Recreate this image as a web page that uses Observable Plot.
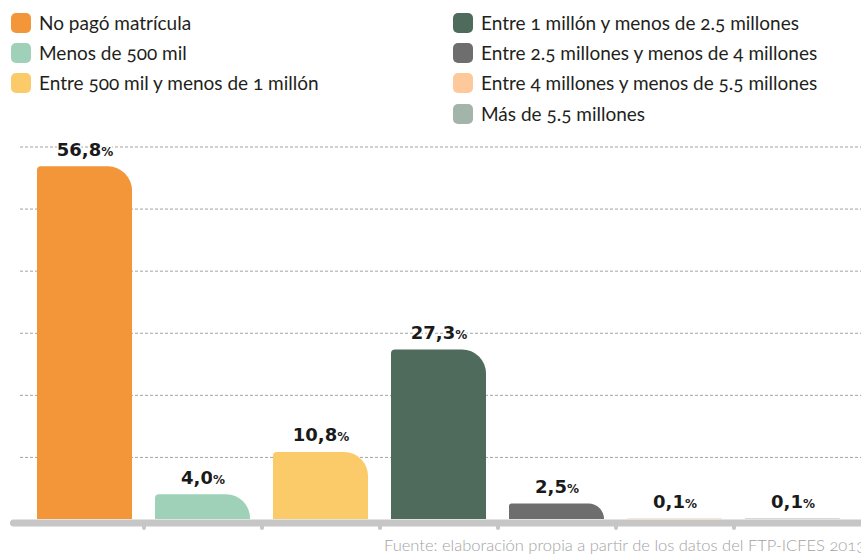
<!DOCTYPE html>
<html><head><meta charset="utf-8">
<script src="https://cdn.jsdelivr.net/npm/d3@7"></script>
<script src="https://cdn.jsdelivr.net/npm/@observablehq/plot@0.6"></script>
<style>
body{margin:0;width:861px;height:554px;overflow:hidden;position:relative;background:#fff;font-family:Lato,sans-serif;}
.legend-item{position:absolute;display:flex;align-items:center;height:20px;font-size:19px;line-height:20px;color:#231f20;white-space:nowrap;font-variant-numeric:oldstyle-nums;}
.sw{width:20px;height:20px;border-radius:5px;margin-right:8px;flex:none;}
#chart{position:absolute;left:0;top:130px;}
#caption{position:absolute;left:384px;top:537px;font-size:16.5px;line-height:16px;font-weight:300;color:#a3a3a3;white-space:nowrap;font-variant-numeric:oldstyle-nums;}
</style></head><body>
<div id="legend"></div>
<div id="chart"></div>
<div id="caption">Fuente: elaboración propia a partir de los datos del FTP-ICFES 2013</div>
<script>
const categories = [
  "No pagó matrícula",
  "Menos de 500 mil",
  "Entre 500 mil y menos de 1 millón",
  "Entre 1 millón y menos de 2.5 millones",
  "Entre 2.5 millones y menos de 4 millones",
  "Entre 4 millones y menos de 5.5 millones",
  "Más de 5.5 millones"
];
const values = [56.8, 4.0, 10.8, 27.3, 2.5, 0.1, 0.1];
const labels = ["56,8", "4,0", "10,8", "27,3", "2,5", "0,1", "0,1"];
const colors = ["#f39539", "#9fd1b9", "#fccb69", "#4f6b5c", "#6e6e6e", "#fdc99b", "#a3b5ab"];
const gridTicks = [10, 20, 30, 40, 50, 60];

// legend (HTML)
const legend = document.getElementById("legend");
const legendPos = [[11, 12.5], [11, 43], [11, 73.3], [453, 12.5], [453, 43], [453, 73.3], [453, 103.6]];
categories.forEach((c, i) => {
  const item = document.createElement("div");
  item.className = "legend-item";
  item.style.left = legendPos[i][0] + "px";
  item.style.top = legendPos[i][1] + "px";
  const sw = document.createElement("span");
  sw.className = "sw";
  sw.style.background = colors[i];
  const tx = document.createElement("span");
  tx.textContent = c;
  item.appendChild(sw); item.appendChild(tx);
  legend.appendChild(item);
});

const data = categories.map((c, i) => ({cat: c, value: values[i], label: labels[i]}));

const chart = Plot.plot({
  width: 861,
  height: 400,
  marginLeft: 10,
  marginRight: 0,
  marginTop: 16.5,
  marginBottom: 11,
  x: {domain: categories, paddingInner: 0.195, paddingOuter: 0.2034, align: 0.5625, axis: null},
  y: {domain: [0, 60], axis: null},
  color: {domain: categories, range: colors},
  marks: [
    Plot.ruleY(gridTicks, {stroke: "#a3a3a3", strokeWidth: 1, strokeDasharray: "3,2", insetLeft: 10}),
    Plot.barY(data, {x: "cat", y: "value", fill: "cat", rx1y1: 4, rx2y1: 24}),
    Plot.ruleY([0], {stroke: "#c6c6c6", strokeWidth: 7, strokeLinecap: "round", dy: 3.5, insetLeft: 3.5}),
    Plot.ruleX(categories.slice(1), {x: d => d, y1: 0, y2: 0, dx: -59, insetTop: 3, insetBottom: -9, stroke: "#c6c6c6", strokeWidth: 4, strokeLinecap: "round"}),
    Plot.text(data, {x: "cat", y: "value", text: d => d.label + "%", lineAnchor: "bottom", dy: -11,
      fontSize: 18, fontWeight: "bold", fontFamily: "DejaVu Sans", fill: "#1a1a1a",
      stroke: "white", strokeWidth: 3, className: "vlabel"})
  ]
});
document.getElementById("chart").appendChild(chart);

chart.querySelectorAll(".vlabel text").forEach(t => {
  const s = t.textContent;
  t.textContent = s.slice(0, -1);
  const ts = document.createElementNS("http://www.w3.org/2000/svg", "tspan");
  ts.setAttribute("font-size", "12");
  ts.textContent = "%";
  t.appendChild(ts);
});
</script>
</body></html>
